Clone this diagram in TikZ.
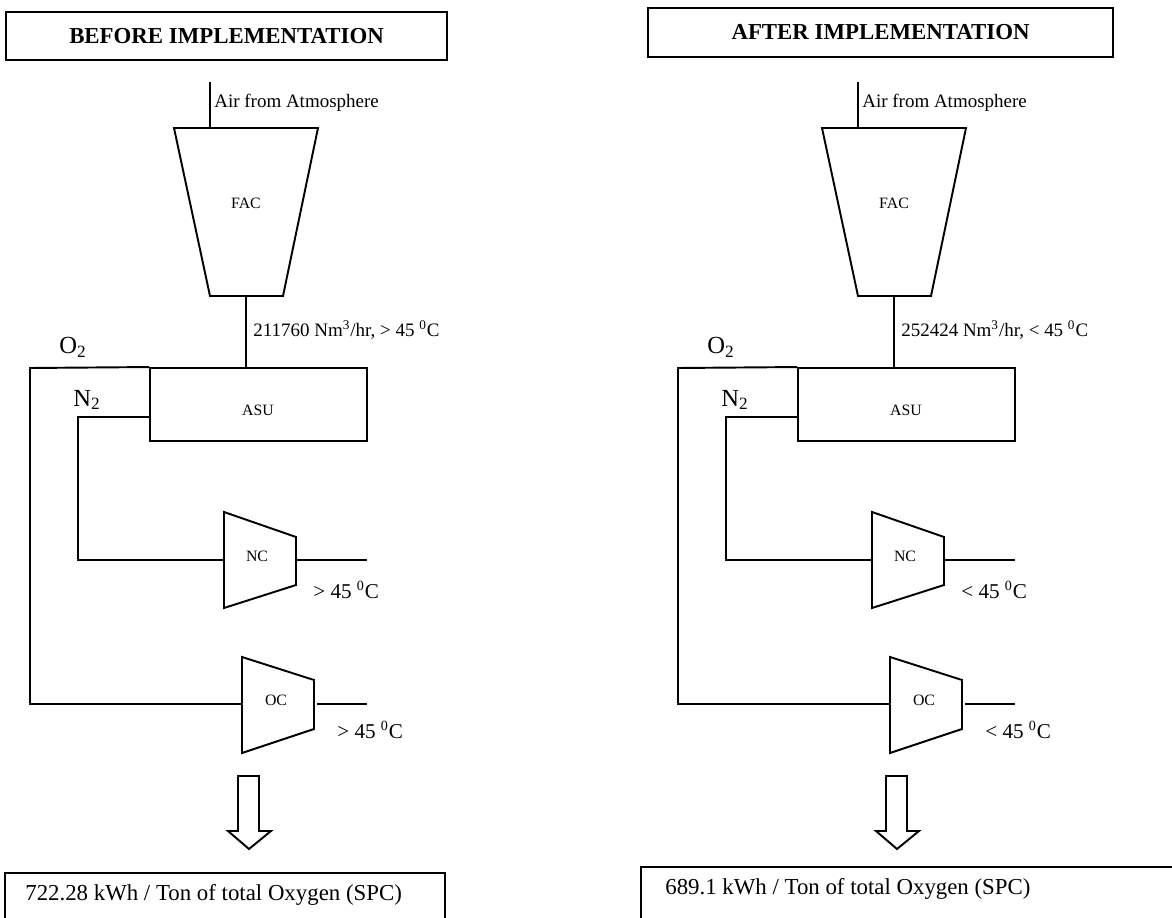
\documentclass[tikz,border=0pt]{standalone}
\usepackage{fontspec}
\setmainfont{Liberation Serif}
\usetikzlibrary{positioning, calc}

\tikzset{
  pipe/.style={line width=1.1pt, line join=miter},
  unit/.style={draw, line width=1.1pt, inner sep=0pt},
  tag/.style={font=\fontsize{9}{10}\selectfont, inner sep=0pt},
  flow/.style={font=\fontsize{10.8}{13}\selectfont, anchor=west, inner sep=0pt},
  temp/.style={font=\fontsize{12}{14}\selectfont, anchor=west, inner sep=0pt},
  gas/.style={font=\fontsize{14}{16}\selectfont, inner sep=0pt},
  headbox/.style={draw, line width=1.1pt, inner sep=0pt, font=\bfseries\fontsize{13}{15}\selectfont},
  result/.style={font=\fontsize{13}{15}\selectfont, anchor=west, inner sep=0pt},
}

% one plant layout, drawn in panel coordinates (pixels)
\newcommand{\plant}[2]{%
  % feed air compressor
  \coordinate (airtop) at (210,82);
  \coordinate (facin) at (210,128);
  \draw[pipe] (airtop) -- (facin);
  \node[flow] (air) at (214,103) {Air from Atmosphere};
  \draw[pipe] (174,128) -- (318,128) -- (283,296) -- (210,296) -- cycle;
  \node[tag] (fac) at (246,203) {FAC};
  \coordinate (facout) at (246,296);
  % air separation unit
  \node[unit, minimum width=4.34cm, minimum height=1.46cm] (asu) at (258.5,404.5) {};
  \node[tag] (asulabel) at (258,410) {ASU};
  \draw[pipe] (facout) -- (facout |- asu.north);
  \node[flow] (feed) at (253,330) {#1};
  % nitrogen compressor
  \draw[pipe] (224,512) -- (296,537) -- (296,585) -- (224,608) -- cycle;
  \node[tag] (nc) at (257,556) {NC};
  \coordinate (ncin) at (224,560);
  \coordinate (ncout) at (296,560);
  \coordinate (ncend) at (367,560);
  \draw[pipe] (ncout) -- (ncend);
  \node[temp] (nctemp) at (313,590) {#2 45 \textsuperscript{0}C};
  % oxygen compressor
  \draw[pipe] (242,657) -- (314,680) -- (314,729) -- (242,753) -- cycle;
  \node[tag] (oc) at (276,700) {OC};
  \coordinate (ocin) at (242,704);
  \coordinate (ocout) at (317,704);
  \coordinate (ocend) at (367,704);
  \draw[pipe] (ocout) -- (ocend);
  \node[temp] (octemp) at (337,730) {#2 45 \textsuperscript{0}C};
  % product lines
  \coordinate (o2turn) at (30,368);
  \coordinate (n2turn) at (78,417);
  \draw[pipe] (asu.north west) -- (o2turn) |- (ocin);
  \draw[pipe] (asu.west |- n2turn) -- (n2turn) |- (ncin);
  \node[gas] (o2) at (73,347) {O\textsubscript{2}};
  \node[gas] (n2) at (87,400) {N\textsubscript{2}};
  % result arrow
  \draw[pipe] (238,776) -- (259,776) -- (259,831) -- (271,831) -- (249,849)
    -- (228,831) -- (238,831) -- cycle;
}

\begin{document}
\begin{tikzpicture}[x=0.02cm, y=-0.02cm]
\useasboundingbox (0,0) rectangle (1172,918);
\clip (0,0) rectangle (1172,918);

% --- Left: before ---
\node[headbox, minimum width=8.82cm, minimum height=0.96cm] (beforehead) at (226.5,36) {BEFORE IMPLEMENTATION};
\begin{scope}[name prefix=L-]
  \plant{211760 Nm\textsuperscript{3}/hr, > 45 \textsuperscript{0}C}{>}
\end{scope}
\draw[pipe] (5,873) rectangle (445,960);
\node[result] (beforespc) at (25,895) {722.28 kWh / Ton of total Oxygen (SPC)};

% --- Right: after ---
\node[headbox, minimum width=9.3cm, minimum height=0.98cm] (afterhead) at (880.5,32.5) {AFTER IMPLEMENTATION};
\begin{scope}[shift={(648,0)}, name prefix=R-]
  \plant{252424 Nm\textsuperscript{3}/hr, < 45 \textsuperscript{0}C}{<}
\end{scope}
\draw[pipe] (641,867) rectangle (1190,960);
\node[result] (afterspc) at (665,889) {689.1 kWh / Ton of total Oxygen (SPC)};

\end{tikzpicture}
\end{document}
